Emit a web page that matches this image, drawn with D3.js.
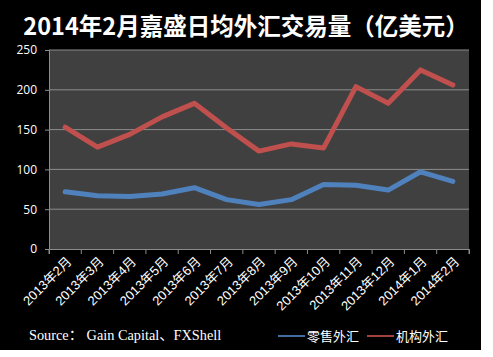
<!DOCTYPE html>
<html><head><meta charset="utf-8">
<script src="https://cdn.jsdelivr.net/npm/d3@7/dist/d3.min.js"></script>
<style>html,body{margin:0;padding:0;background:#fff;}</style>
</head><body>
<svg id="c" width="493" height="357"></svg>
<script>
const categories = ["2013年2月","2013年3月","2013年4月","2013年5月","2013年6月","2013年7月","2013年8月","2013年9月","2013年10月","2013年11月","2013年12月","2014年1月","2014年2月"];
const retail = [72, 67, 66, 69, 77, 62, 56, 62, 81, 80, 74, 97, 85];
const institutional = [153, 128, 144, 166, 183, 152, 123, 132, 127, 204, 183, 225, 206];
const yTicks = [0, 50, 100, 150, 200, 250];
const seriesNames = ["零售外汇", "机构外汇"];
const colors = ["#4f81bd", "#c0504d"];
const title = "2014年2月嘉盛日均外汇交易量（亿美元）";
const source = "Source： Gain Capital、FXShell";

const svg = d3.select("#c");
svg.append("rect").attr("x",0).attr("y",0).attr("width",481).attr("height",350).attr("fill","#000");

const m = {l:49, r:469, t:50, b:249};
const x = d3.scaleBand().domain(categories).range([m.l, m.r]);
const y = d3.scaleLinear().domain([0,250]).range([m.b, m.t]);

svg.append("rect").attr("x",m.l).attr("y",m.t).attr("width",m.r-m.l).attr("height",m.b-m.t).attr("fill","#404040");

// grid
svg.append("g").selectAll("line").data(yTicks.filter(d=>d>0)).join("line")
  .attr("x1",m.l).attr("x2",m.r).attr("y1",d=>y(d)).attr("y2",d=>y(d))
  .attr("stroke","#8c8c8c").attr("stroke-width",1);

// y axis
const ya = svg.append("g").attr("transform",`translate(${m.l},0)`)
  .call(d3.axisLeft(y).tickValues(yTicks).tickSize(4).tickPadding(8));
ya.select(".domain").attr("stroke","#8c8c8c");
ya.selectAll(".tick line").attr("stroke","#8c8c8c");
ya.selectAll("text").attr("fill","#fff").attr("font-family","'Open Sans','Liberation Sans',sans-serif").attr("font-size",12);

// x axis
const xa = svg.append("g").attr("transform",`translate(0,${m.b})`)
  .call(d3.axisBottom(x).tickSize(5).tickFormat(""));
xa.select(".domain").attr("stroke","#8c8c8c");
xa.selectAll(".tick").remove();
const edges = d3.range(categories.length+1).map(i=> m.l + i*x.step());
xa.selectAll("line.t").data(edges).join("line").attr("class","t")
  .attr("x1",d=>d).attr("x2",d=>d).attr("y1",0).attr("y2",5).attr("stroke","#8c8c8c");
xa.selectAll("text.lab").data(categories).join("text").attr("class","lab")
  .attr("transform",d=>`translate(${x(d)+x.bandwidth()/2+4},10) rotate(-45)`)
  .attr("text-anchor","end").attr("dy","0.35em")
  .attr("fill","#fff").attr("font-family","'Liberation Sans','Noto Sans CJK SC',sans-serif").attr("font-size",13)
  .text(d=>d);

// lines
const line = d3.line().x((d,i)=>x(categories[i])+x.bandwidth()/2).y(d=>y(d));
[retail, institutional].forEach((s,k)=>{
  svg.append("path").datum(s).attr("d",line).attr("fill","none")
    .attr("stroke",colors[k]).attr("stroke-width",5).attr("stroke-linejoin","round").attr("stroke-linecap","round");
});

// title
svg.append("text").attr("x",246).attr("y",35).attr("text-anchor","middle")
  .attr("fill","#fff").attr("font-weight","bold").attr("font-size",23.5)
  .attr("font-family","'Noto Sans CJK SC','Liberation Sans',sans-serif").text(title);

// source
svg.append("text").attr("x",29).attr("y",340).attr("fill","#fff")
  .attr("font-family","'Liberation Serif','Noto Sans CJK SC',serif").attr("font-size",14.3).text(source);

// legend
const lx = [278, 367];
seriesNames.forEach((n,k)=>{
  svg.append("line").attr("x1",lx[k]).attr("x2",lx[k]+27).attr("y1",336).attr("y2",336)
    .attr("stroke",colors[k]).attr("stroke-width",2).attr("opacity",0.85);
  svg.append("text").attr("x",lx[k]+29).attr("y",341).attr("fill","#fff")
    .attr("font-family","'Noto Sans CJK SC',sans-serif").attr("font-size",13).text(n);
});
</script>
</body></html>
